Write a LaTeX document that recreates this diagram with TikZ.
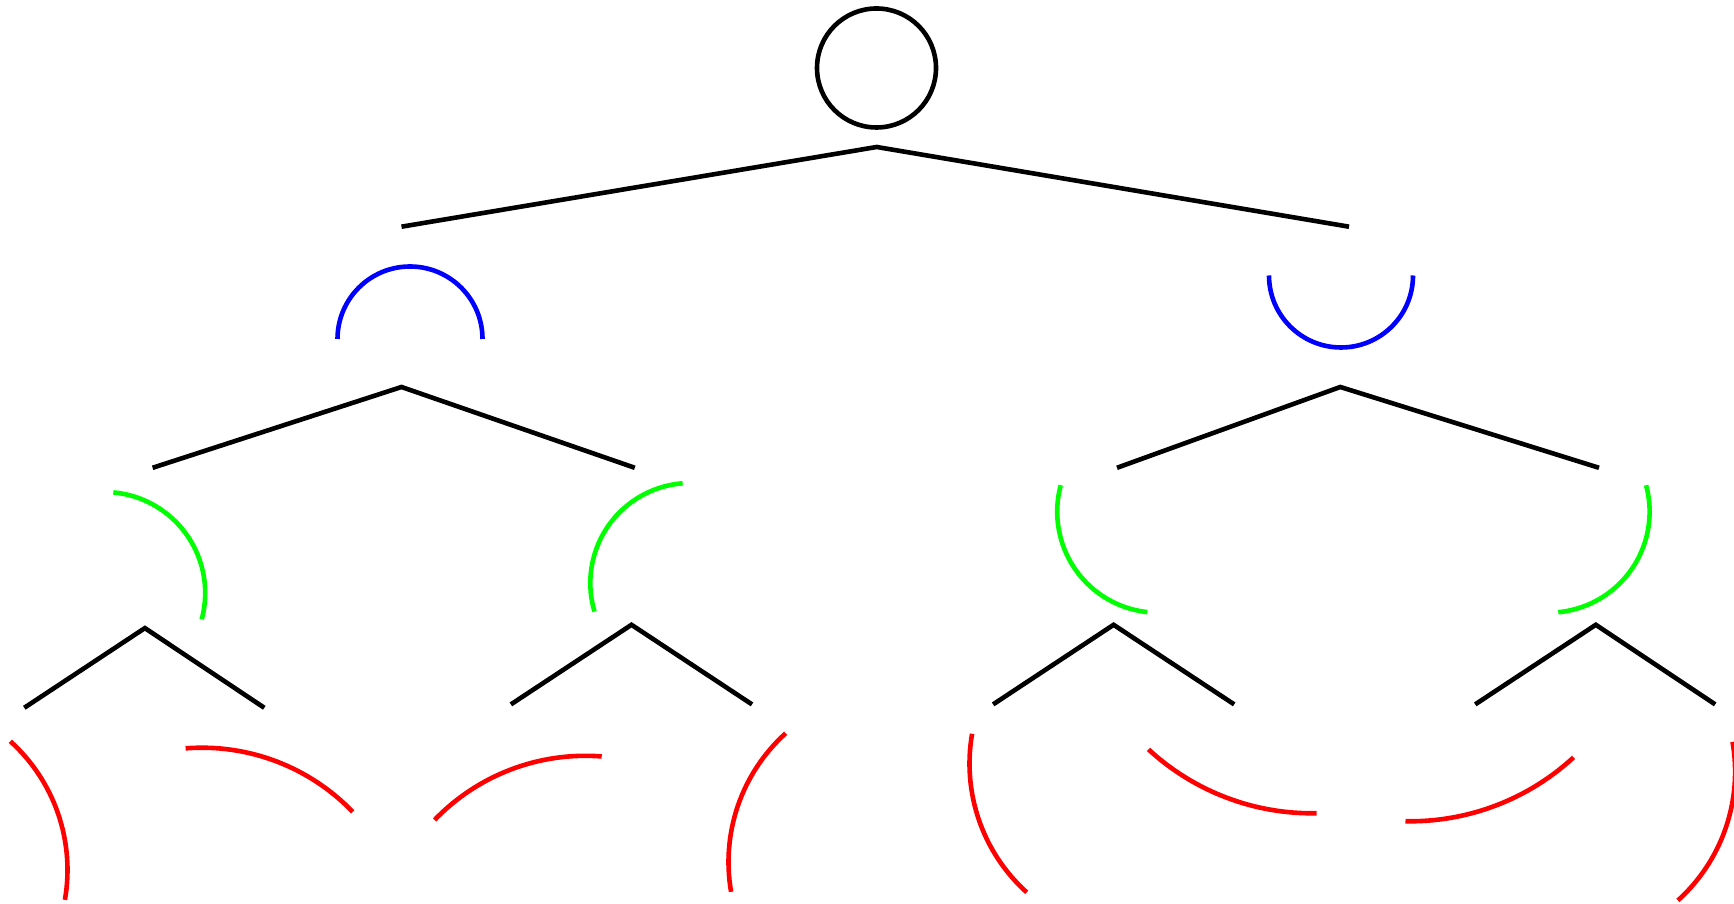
\documentclass[tikz,border=0pt]{standalone}
\usetikzlibrary{calc}
\definecolor{arcblue}{RGB}{0,0,255}
\definecolor{arcgreen}{RGB}{0,255,0}
\definecolor{arcred}{RGB}{255,0,0}
\tikzset{
  edge/.style={draw=black, line width=2.3pt},
  bluearc/.style={draw=arcblue, line width=2.3pt},
  greenarc/.style={draw=arcgreen, line width=2.3pt},
  redarc/.style={draw=arcred, line width=2.3pt},
}
% arc of the circle centred at #2 with radius #3, from angle #4 to angle #5
\newcommand\treearc[5][]{\draw[#1] ($(#2)+(#4:#3)$) arc[start angle=#4, end angle=#5, radius=#3];}
\begin{document}
\begin{tikzpicture}[x=0.5pt, y=0.5pt]
\useasboundingbox (0,0) rectangle (1734,904);

% root
\node[draw=black, line width=2.3pt, circle, minimum size=59.5pt, inner sep=0pt] (root) at (876.5,836) {};

% first split
\coordinate (t0) at (876.7,757);
\coordinate (tL) at (401.5,677.3);
\coordinate (tR) at (1349,677.3);
\draw[edge] (tL) -- (t0) -- (tR);

% blue arcs
\coordinate (cb1) at (410,565);
\coordinate (cb2) at (1341,628.5);
\treearc[bluearc]{cb1}{36.25pt}{180}{0}
\treearc[bluearc]{cb2}{36pt}{180}{360}

% second splits
\coordinate (sA) at (401.5,517);
\coordinate (sAl) at (152.6,436.2);
\coordinate (sAr) at (634.8,436.2);
\draw[edge] (sAl) -- (sA) -- (sAr);
\coordinate (sB) at (1340.3,517);
\coordinate (sBl) at (1117,436.2);
\coordinate (sBr) at (1599,436.2);
\draw[edge] (sBl) -- (sB) -- (sBr);

% green arcs
\coordinate (cg1) at (104.2,311);
\coordinate (cg2) at (690.3,321);
\coordinate (cg3) at (1158.2,392.3);
\coordinate (cg4) at (1548.6,392.3);
\treearc[greenarc]{cg1}{50.5pt}{84.8}{-15.1}
\treearc[greenarc]{cg2}{50pt}{94.4}{196.6}
\treearc[greenarc]{cg3}{50.5pt}{164.8}{263.8}
\treearc[greenarc]{cg4}{50.5pt}{15.2}{-84.5}

% third splits
\coordinate (uA) at (144.9,275.9);
\coordinate (uAl) at (24.3,196.2);
\coordinate (uAr) at (264.3,196.2);
\draw[edge] (uAl) -- (uA) -- (uAr);
\coordinate (uB) at (631.5,279.2);
\coordinate (uBl) at (510.9,199.6);
\coordinate (uBr) at (752,199.6);
\draw[edge] (uBl) -- (uB) -- (uBr);
\coordinate (uC) at (1113.6,279.2);
\coordinate (uCl) at (993.1,199.6);
\coordinate (uCr) at (1234.2,199.6);
\draw[edge] (uCl) -- (uC) -- (uCr);
\coordinate (uD) at (1595.8,279.2);
\coordinate (uDl) at (1475.2,199.6);
\coordinate (uDr) at (1715.2,199.6);
\draw[edge] (uDl) -- (uD) -- (uDr);

% red arcs
\coordinate (cr1) at (-106,34);
\coordinate (cr2) at (202,-52.9);
\coordinate (cr3) at (585.3,-61);
\coordinate (cr4) at (902,42);
\coordinate (cr5) at (1143,140.4);
\coordinate (cr6) at (1311.9,331.7);
\coordinate (cr7) at (1410.1,323.7);
\coordinate (cr8) at (1561.6,132.3);
\treearc[redarc]{cr1}{86.75pt}{47.9}{-9.9}
\treearc[redarc]{cr2}{104.6pt}{94.5}{43.9}
\treearc[redarc]{cr3}{104.6pt}{85.5}{136.1}
\treearc[redarc]{cr4}{86.75pt}{132.1}{189.9}
\treearc[redarc]{cr5}{86.75pt}{170.1}{227.9}
\treearc[redarc]{cr6}{120.5pt}{227.3}{271.1}
\treearc[redarc]{cr7}{120.5pt}{268.9}{312.7}
\treearc[redarc]{cr8}{86.75pt}{9.9}{-47.9}
\end{tikzpicture}
\end{document}
